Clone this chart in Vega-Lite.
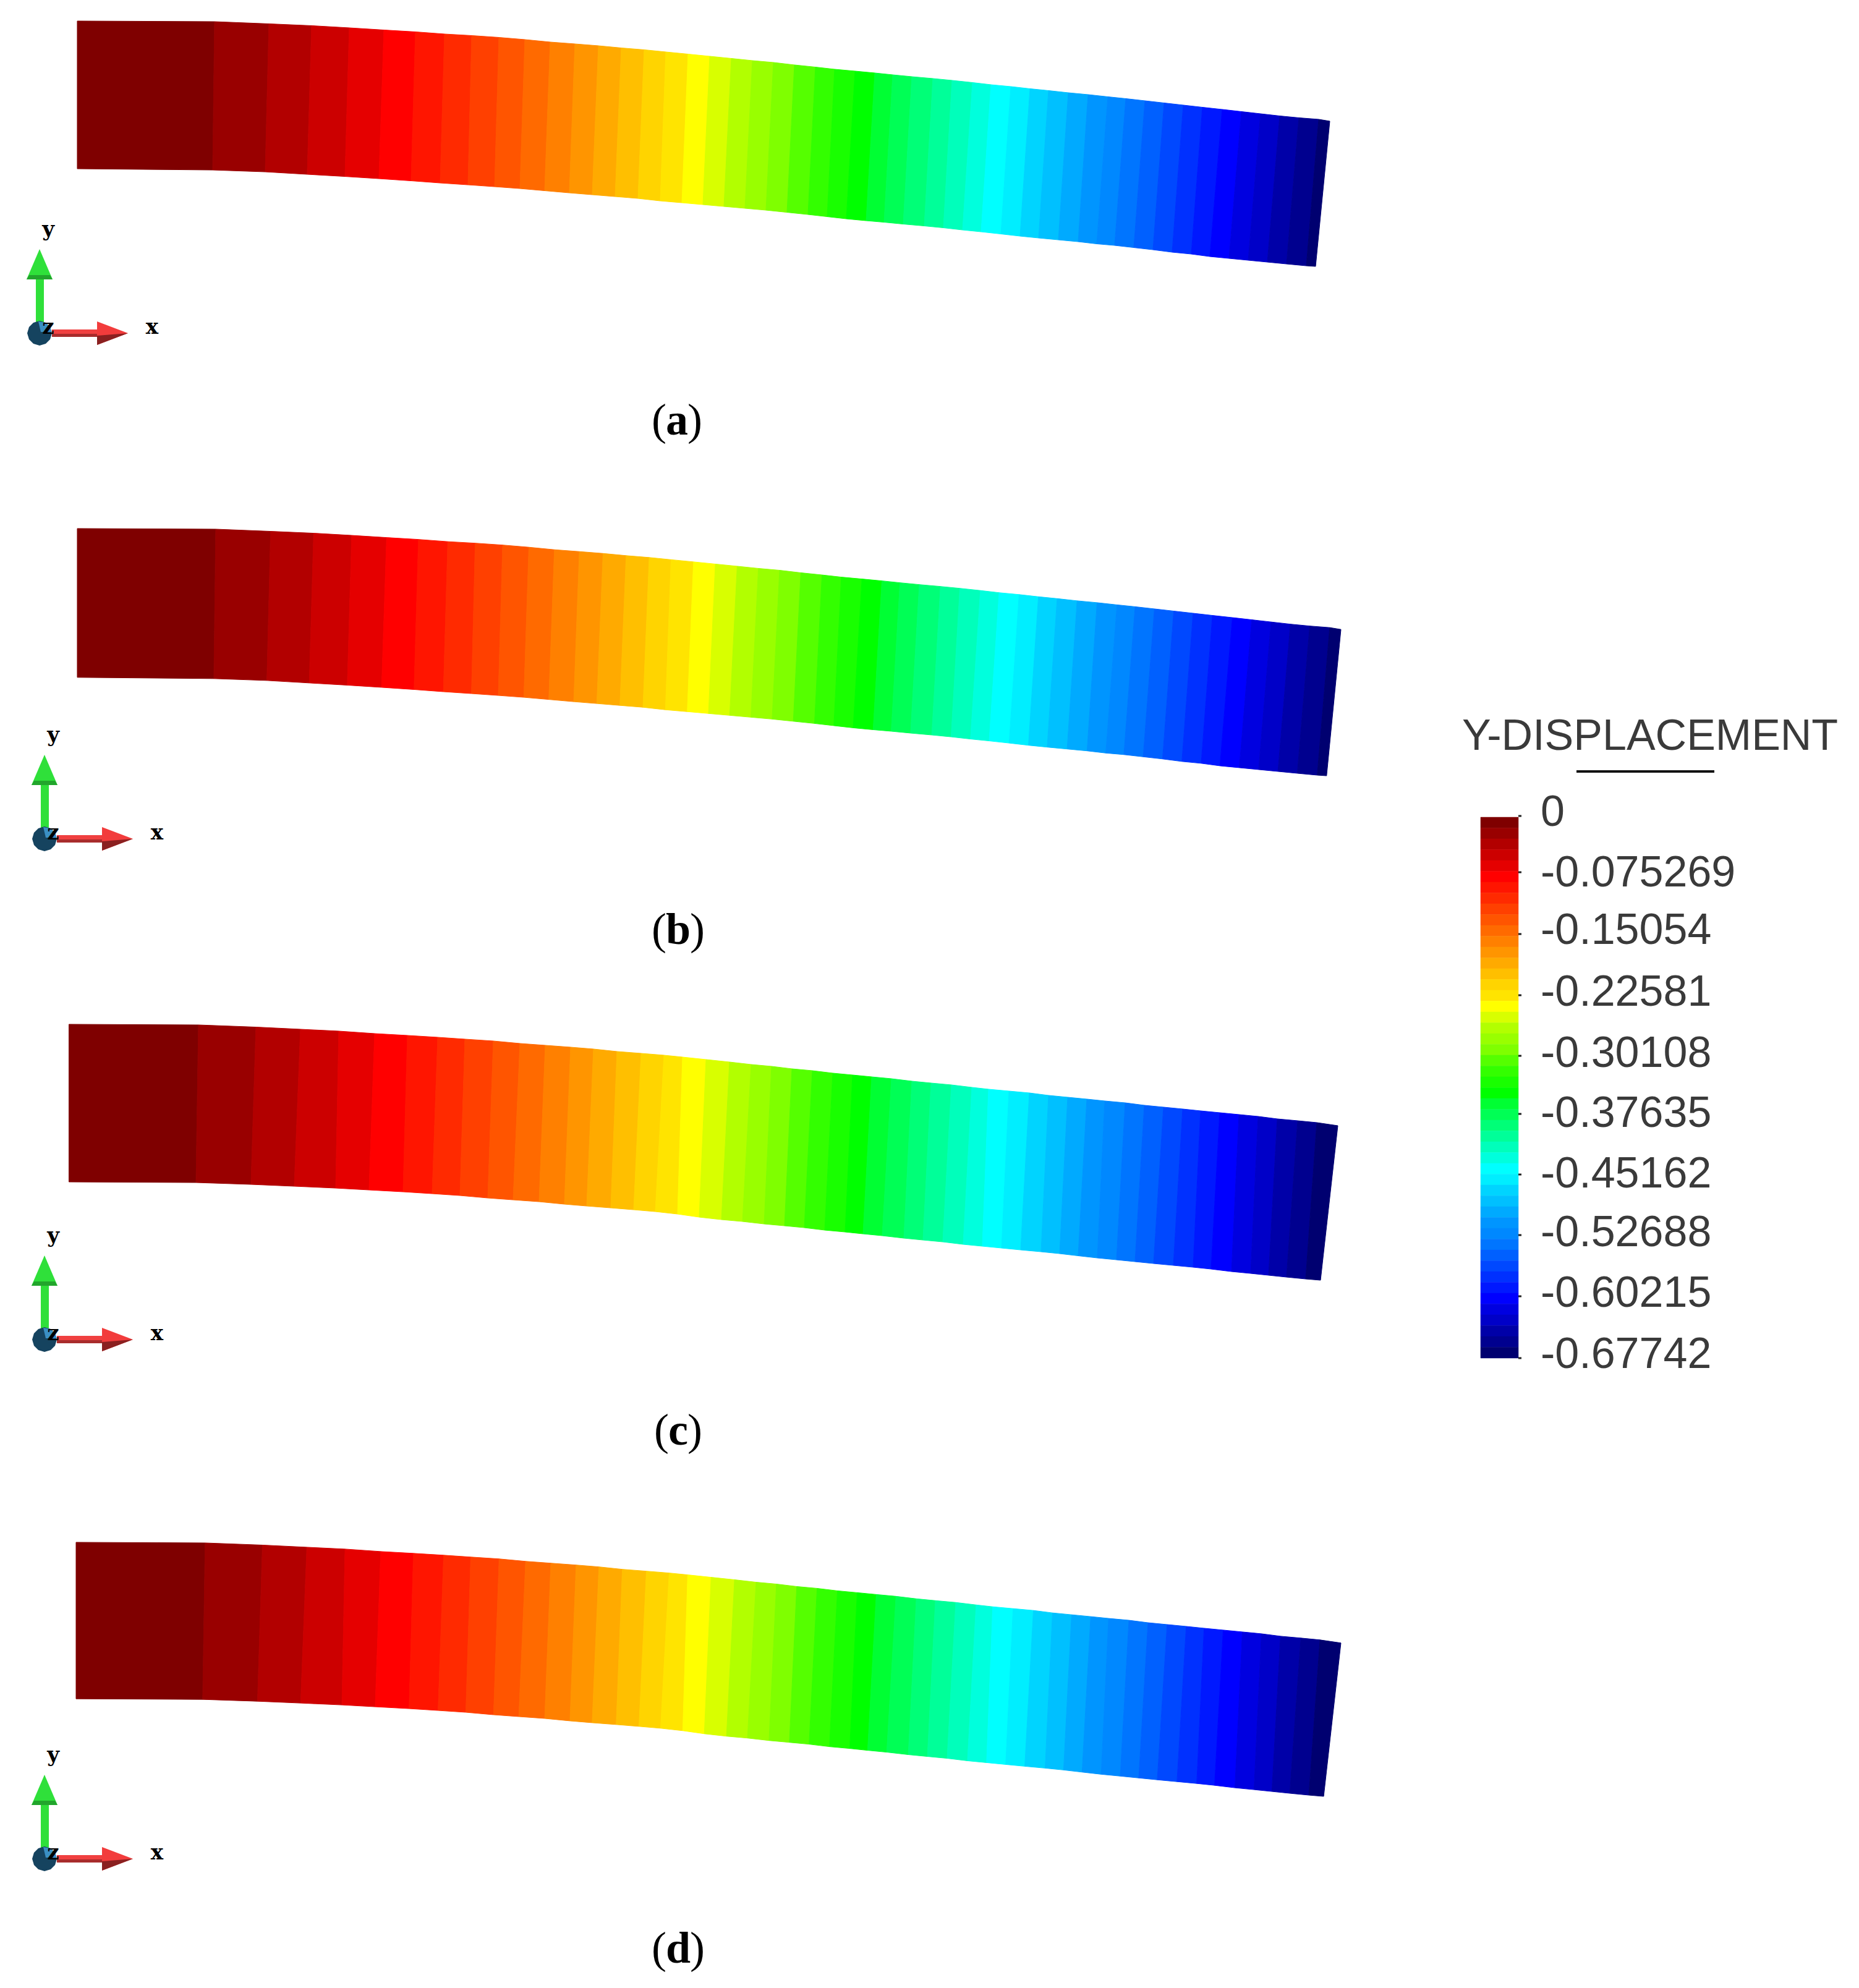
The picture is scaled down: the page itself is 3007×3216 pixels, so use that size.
{"$schema":"https://vega.github.io/schema/vega-lite/v6.json","width":3007,"height":3216,"padding":0,"autosize":{"type":"none"},"background":"white",
"config":{"view":{"stroke":null},"range":{"category":["#7f0000","#990000","#b20000","#cc0000","#e50000","#ff0000","#ff1500","#ff2a00","#ff4000","#ff5500","#ff6a00","#ff8000","#ff9500","#ffaa00","#ffbf00","#ffd400","#ffe400","#ffff00","#d8ff00","#b2ff00","#99ff00","#7fff00","#55ff00","#33ff00","#19ff00","#00ff00","#00ff33","#00ff55","#00ff77","#00ff99","#00ffbb","#00ffdd","#00ffff","#00eeff","#00d4ff","#00c0ff","#00aaff","#0095ff","#0088ff","#0075ff","#0060ff","#0048ff","#0030ff","#0018ff","#0000ff","#0000e0","#0000c8","#0000a8","#00008f","#000070"]}},
"datasets":{
"beamA":[
{"band":0,"xs":[125,347,344,125],"ys":[34,35,275,273]},
{"band":1,"xs":[347,435,429,344],"ys":[35,38.5,278,275]},
{"band":2,"xs":[435,504,497,429],"ys":[38.5,41.5,282,278]},
{"band":3,"xs":[504,565,558,497],"ys":[41.5,45,285.5,282]},
{"band":4,"xs":[565,621,613,558],"ys":[45,48.5,289,285.5]},
{"band":5,"xs":[621,672,665,613],"ys":[48.5,51.5,292.5,289]},
{"band":6,"xs":[672,719,712,665],"ys":[51.5,55,296,292.5]},
{"band":7,"xs":[719,763,757,712],"ys":[55,57.5,299,296]},
{"band":8,"xs":[763,807,800,757],"ys":[57.5,60.5,302,299]},
{"band":9,"xs":[807,849,841,800],"ys":[60.5,64,305,302]},
{"band":10,"xs":[849,890,881,841],"ys":[64,68,308.5,305]},
{"band":11,"xs":[890,930,921,881],"ys":[68,71,312,308.5]},
{"band":12,"xs":[930,968,958,921],"ys":[71,74,315,312]},
{"band":13,"xs":[968,1005,995,958],"ys":[74,77.5,318,315]},
{"band":14,"xs":[1005,1042,1032,995],"ys":[77.5,80.5,321,318]},
{"band":15,"xs":[1042,1077,1068,1032],"ys":[80.5,84,325,321]},
{"band":16,"xs":[1077,1113,1103,1068],"ys":[84,87.5,328,325]},
{"band":17,"xs":[1113,1148,1137,1103],"ys":[87.5,91,331,328]},
{"band":18,"xs":[1148,1183,1171,1137],"ys":[91,94.5,334,331]},
{"band":19,"xs":[1183,1217,1205,1171],"ys":[94.5,98,337,334]},
{"band":20,"xs":[1217,1251,1239,1205],"ys":[98,101,340,337]},
{"band":21,"xs":[1251,1285,1273,1239],"ys":[101,105,343.5,340]},
{"band":22,"xs":[1285,1319,1307,1273],"ys":[105,108.5,347,343.5]},
{"band":23,"xs":[1319,1350,1338,1307],"ys":[108.5,112,350.5,347]},
{"band":24,"xs":[1350,1383,1369,1338],"ys":[112,115,354,350.5]},
{"band":25,"xs":[1383,1415,1401,1369],"ys":[115,118,357,354]},
{"band":26,"xs":[1415,1444,1430,1401],"ys":[118,121,359.5,357]},
{"band":27,"xs":[1444,1475,1461,1430],"ys":[121,124,362.5,359.5]},
{"band":28,"xs":[1475,1509,1495,1461],"ys":[124,127,365.5,362.5]},
{"band":29,"xs":[1509,1540,1526,1495],"ys":[127,130,368.5,365.5]},
{"band":30,"xs":[1540,1573,1557,1526],"ys":[130,133.5,372,368.5]},
{"band":31,"xs":[1573,1603,1587,1557],"ys":[133.5,137,375,372]},
{"band":32,"xs":[1603,1635,1619,1587],"ys":[137,140,378.5,375]},
{"band":33,"xs":[1635,1666,1650,1619],"ys":[140,143.5,382,378.5]},
{"band":34,"xs":[1666,1696,1680,1650],"ys":[143.5,146.5,385,382]},
{"band":35,"xs":[1696,1728,1712,1680],"ys":[146.5,150,388,385]},
{"band":36,"xs":[1728,1760,1744,1712],"ys":[150,153,391,388]},
{"band":37,"xs":[1760,1792,1774,1744],"ys":[153,156.5,394.5,391]},
{"band":38,"xs":[1792,1821,1803,1774],"ys":[156.5,159.5,397,394.5]},
{"band":39,"xs":[1821,1852,1834,1803],"ys":[159.5,163,400.5,397]},
{"band":40,"xs":[1852,1883,1865,1834],"ys":[163,166.5,404,400.5]},
{"band":41,"xs":[1883,1914,1896,1865],"ys":[166.5,170,408,404]},
{"band":42,"xs":[1914,1945,1927,1896],"ys":[170,173.5,411,408]},
{"band":43,"xs":[1945,1977,1957,1927],"ys":[173.5,177,415,411]},
{"band":44,"xs":[1977,2008,1988,1957],"ys":[177,180.5,418,415]},
{"band":45,"xs":[2008,2039,2019,1988],"ys":[180.5,184,421,418]},
{"band":46,"xs":[2039,2070,2050,2019],"ys":[184,187.5,424,421]},
{"band":47,"xs":[2070,2101,2081,2050],"ys":[187.5,190.5,427,424]},
{"band":48,"xs":[2101,2133,2113,2081],"ys":[190.5,193,430,427]},
{"band":49,"xs":[2133,2151,2128,2113],"ys":[193,196,431,430]}
],
"beamC":[
{"band":0,"xs":[111.5,321,317,111.5],"ys":[1657,1658,1913,1912]},
{"band":1,"xs":[321,414,406,317],"ys":[1658,1661.5,1916,1913]},
{"band":2,"xs":[414,486,476,406],"ys":[1661.5,1665,1919,1916]},
{"band":3,"xs":[486,548,543,476],"ys":[1665,1668,1922,1919]},
{"band":4,"xs":[548,606,597,543],"ys":[1668,1672,1925,1922]},
{"band":5,"xs":[606,659,652,597],"ys":[1672,1675,1928,1925]},
{"band":6,"xs":[659,708,699,652],"ys":[1675,1678,1931,1928]},
{"band":7,"xs":[708,752,744,699],"ys":[1678,1681,1934,1931]},
{"band":8,"xs":[752,798,789,744],"ys":[1681,1684,1938,1934]},
{"band":9,"xs":[798,841,830,789],"ys":[1684,1688,1941,1938]},
{"band":10,"xs":[841,882,872,830],"ys":[1688,1691,1944,1941]},
{"band":11,"xs":[882,923,913,872],"ys":[1691,1694,1948,1944]},
{"band":12,"xs":[923,960,949,913],"ys":[1694,1697,1951,1948]},
{"band":13,"xs":[960,998,988,949],"ys":[1697,1701,1954,1951]},
{"band":14,"xs":[998,1037,1025,988],"ys":[1701,1704,1957,1954]},
{"band":15,"xs":[1037,1074,1060,1025],"ys":[1704,1707,1960,1957]},
{"band":16,"xs":[1074,1104,1096,1060],"ys":[1707,1710,1964,1960]},
{"band":17,"xs":[1104,1142,1131,1096],"ys":[1710,1714,1969,1964]},
{"band":18,"xs":[1142,1180,1167,1131],"ys":[1714,1718,1973,1969]},
{"band":19,"xs":[1180,1215,1201,1167],"ys":[1718,1722,1976,1973]},
{"band":20,"xs":[1215,1248,1236,1201],"ys":[1722,1725,1980,1976]},
{"band":21,"xs":[1248,1281,1269,1236],"ys":[1725,1729,1983,1980]},
{"band":22,"xs":[1281,1314,1301,1269],"ys":[1729,1732,1986,1983]},
{"band":23,"xs":[1314,1347,1334,1301],"ys":[1732,1736,1990,1986]},
{"band":24,"xs":[1347,1379,1367,1334],"ys":[1736,1739,1993,1990]},
{"band":25,"xs":[1379,1410,1396,1367],"ys":[1739,1742,1996,1993]},
{"band":26,"xs":[1410,1442,1427,1396],"ys":[1742,1745,1999,1996]},
{"band":27,"xs":[1442,1475,1462,1427],"ys":[1745,1749,2003,1999]},
{"band":28,"xs":[1475,1506,1493,1462],"ys":[1749,1752,2006,2003]},
{"band":29,"xs":[1506,1539,1525,1493],"ys":[1752,1755,2009,2006]},
{"band":30,"xs":[1539,1572,1558,1525],"ys":[1755,1759,2013,2009]},
{"band":31,"xs":[1572,1599,1589,1558],"ys":[1759,1762,2016,2013]},
{"band":32,"xs":[1599,1632,1620,1589],"ys":[1762,1765,2019,2016]},
{"band":33,"xs":[1632,1665,1651,1620],"ys":[1765,1768,2022,2019]},
{"band":34,"xs":[1665,1696,1684,1651],"ys":[1768,1772,2025,2022]},
{"band":35,"xs":[1696,1727,1714,1684],"ys":[1772,1775,2028,2025]},
{"band":36,"xs":[1727,1758,1744,1714],"ys":[1775,1778,2031.5,2028]},
{"band":37,"xs":[1758,1787,1775,1744],"ys":[1778,1781,2035,2031.5]},
{"band":38,"xs":[1787,1820,1806,1775],"ys":[1781,1784,2038,2035]},
{"band":39,"xs":[1820,1851,1836,1806],"ys":[1784,1788,2041,2038]},
{"band":40,"xs":[1851,1882,1866,1836],"ys":[1788,1791,2044,2041]},
{"band":41,"xs":[1882,1913,1898,1866],"ys":[1791,1794,2047,2044]},
{"band":42,"xs":[1913,1942,1930,1898],"ys":[1794,1797,2050,2047]},
{"band":43,"xs":[1942,1973,1959,1930],"ys":[1797,1800,2053,2050]},
{"band":44,"xs":[1973,2004,1992,1959],"ys":[1800,1803,2057,2053]},
{"band":45,"xs":[2004,2035,2023,1992],"ys":[1803,1806,2060,2057]},
{"band":46,"xs":[2035,2066,2052,2023],"ys":[1806,1810,2063,2060]},
{"band":47,"xs":[2066,2099,2081,2052],"ys":[1810,1813,2066,2063]},
{"band":48,"xs":[2099,2130,2112,2081],"ys":[1813,1816,2069,2066]},
{"band":49,"xs":[2130,2164,2136,2112],"ys":[1816,1821,2071,2069]}
],
"bar":[
{"band":0,"x":2395,"x2":2456,"y":1322,"y2":1339.5},{"band":1,"x":2395,"x2":2456,"y":1339.5,"y2":1357},{"band":2,"x":2395,"x2":2456,"y":1357,"y2":1374.5},{"band":3,"x":2395,"x2":2456,"y":1374.5,"y2":1392},{"band":4,"x":2395,"x2":2456,"y":1392,"y2":1409.5},{"band":5,"x":2395,"x2":2456,"y":1409.5,"y2":1427},{"band":6,"x":2395,"x2":2456,"y":1427,"y2":1444.5},{"band":7,"x":2395,"x2":2456,"y":1444.5,"y2":1462},{"band":8,"x":2395,"x2":2456,"y":1462,"y2":1479.5},{"band":9,"x":2395,"x2":2456,"y":1479.5,"y2":1497},
{"band":10,"x":2395,"x2":2456,"y":1497,"y2":1514.5},{"band":11,"x":2395,"x2":2456,"y":1514.5,"y2":1532},{"band":12,"x":2395,"x2":2456,"y":1532,"y2":1549.5},{"band":13,"x":2395,"x2":2456,"y":1549.5,"y2":1567},{"band":14,"x":2395,"x2":2456,"y":1567,"y2":1584.5},{"band":15,"x":2395,"x2":2456,"y":1584.5,"y2":1602},{"band":16,"x":2395,"x2":2456,"y":1602,"y2":1619.5},{"band":17,"x":2395,"x2":2456,"y":1619.5,"y2":1637},{"band":18,"x":2395,"x2":2456,"y":1637,"y2":1654.5},{"band":19,"x":2395,"x2":2456,"y":1654.5,"y2":1672},
{"band":20,"x":2395,"x2":2456,"y":1672,"y2":1689.5},{"band":21,"x":2395,"x2":2456,"y":1689.5,"y2":1707},{"band":22,"x":2395,"x2":2456,"y":1707,"y2":1724.5},{"band":23,"x":2395,"x2":2456,"y":1724.5,"y2":1742},{"band":24,"x":2395,"x2":2456,"y":1742,"y2":1759.5},{"band":25,"x":2395,"x2":2456,"y":1759.5,"y2":1777},{"band":26,"x":2395,"x2":2456,"y":1777,"y2":1794.5},{"band":27,"x":2395,"x2":2456,"y":1794.5,"y2":1812},{"band":28,"x":2395,"x2":2456,"y":1812,"y2":1829.5},{"band":29,"x":2395,"x2":2456,"y":1829.5,"y2":1847},
{"band":30,"x":2395,"x2":2456,"y":1847,"y2":1864.5},{"band":31,"x":2395,"x2":2456,"y":1864.5,"y2":1882},{"band":32,"x":2395,"x2":2456,"y":1882,"y2":1899.5},{"band":33,"x":2395,"x2":2456,"y":1899.5,"y2":1917},{"band":34,"x":2395,"x2":2456,"y":1917,"y2":1934.5},{"band":35,"x":2395,"x2":2456,"y":1934.5,"y2":1952},{"band":36,"x":2395,"x2":2456,"y":1952,"y2":1969.5},{"band":37,"x":2395,"x2":2456,"y":1969.5,"y2":1987},{"band":38,"x":2395,"x2":2456,"y":1987,"y2":2004.5},{"band":39,"x":2395,"x2":2456,"y":2004.5,"y2":2022},
{"band":40,"x":2395,"x2":2456,"y":2022,"y2":2039.5},{"band":41,"x":2395,"x2":2456,"y":2039.5,"y2":2057},{"band":42,"x":2395,"x2":2456,"y":2057,"y2":2074.5},{"band":43,"x":2395,"x2":2456,"y":2074.5,"y2":2092},{"band":44,"x":2395,"x2":2456,"y":2092,"y2":2109.5},{"band":45,"x":2395,"x2":2456,"y":2109.5,"y2":2127},{"band":46,"x":2395,"x2":2456,"y":2127,"y2":2144.5},{"band":47,"x":2395,"x2":2456,"y":2144.5,"y2":2162},{"band":48,"x":2395,"x2":2456,"y":2162,"y2":2179.5},{"band":49,"x":2395,"x2":2456,"y":2179.5,"y2":2197}
],
"tickMarks":[
{"x":2456,"x2":2461,"y":1320},{"x":2456,"x2":2461,"y":1411},{"x":2456,"x2":2461,"y":1511},{"x":2456,"x2":2461,"y":1610},{"x":2456,"x2":2461,"y":1708},{"x":2456,"x2":2461,"y":1802},{"x":2456,"x2":2461,"y":1900},{"x":2456,"x2":2461,"y":1998},{"x":2456,"x2":2461,"y":2097},{"x":2456,"x2":2461,"y":2197}
],
"tickLabels":[
{"label":"0","x":2492,"y":1315},{"label":"-0.075269","x":2492,"y":1413},{"label":"-0.15054","x":2492,"y":1506},{"label":"-0.22581","x":2492,"y":1606},{"label":"-0.30108","x":2492,"y":1705},{"label":"-0.37635","x":2492,"y":1802},{"label":"-0.45162","x":2492,"y":1900},{"label":"-0.52688","x":2492,"y":1995},{"label":"-0.60215","x":2492,"y":2093},{"label":"-0.67742","x":2492,"y":2192},{"label":"Y-DISPLACEMENT","x":2365,"y":1192}
],
"underline":[{"x":2550,"x2":2773,"y":1248}],
"parens":[
{"t":"(","x":1066,"y":703},{"t":")","x":1124,"y":703},
{"t":"(","x":1066,"y":1527},{"t":")","x":1128,"y":1527},
{"t":"(","x":1070,"y":2337},{"t":")","x":1124,"y":2337},
{"t":"(","x":1066,"y":3175},{"t":")","x":1128,"y":3175}
],
"letters":[
{"t":"a","x":1095,"y":703},{"t":"b","x":1097,"y":1527},{"t":"c","x":1097,"y":2337},{"t":"d","x":1097,"y":3175}
],
"triad":[
{"part":"gs","xs":[58,71,71,58],"ys":[450,450,525,525]},
{"part":"gh","xs":[64,85,43],"ys":[403,452,452]},
{"part":"gd","xs":[47,81,85,43],"ys":[445,445,452,452]},
{"part":"rs","xs":[84,157,157,84],"ys":[533,533,540,540]},
{"part":"rd","xs":[84,157,157,84],"ys":[540,540,545,545]},
{"part":"rh","xs":[157,207,157],"ys":[520,539,558]},
{"part":"rk","xs":[157,207,157],"ys":[543,539,558]},
{"part":"c","xs":[84,81,74,64,54,47,44,47,54,64,74,81],"ys":[539,529,522,519,522,529,539,549,556,559,556,549]},
{"part":"cl","xs":[62,74,81,84,66],"ys":[520,522,529,537,537]}
],
"triadText":[{"t":"y","x":78,"y":382},{"t":"x","x":246,"y":540},{"t":"z","x":78,"y":540}]
},
"layer":[
{"encoding":{"x":{"field":"x","type":"quantitative","axis":null,"scale":{"domain":[0,3007],"range":[0,3007],"nice":false,"zero":false}},"y":{"field":"y","type":"quantitative","axis":null,"scale":{"domain":[0,3216],"range":[0,3216],"nice":false,"zero":false}}},
"layer":[
{"data":{"name":"beamA"},"transform":[{"flatten":["xs","ys"],"as":["x","y"]}],"mark":{"type":"line","filled":true,"strokeWidth":1,"interpolate":"linear-closed"},"encoding":{"order":{"value":null},"color":{"field":"band","type":"nominal","legend":null},"stroke":{"field":"band","type":"nominal","legend":null}}},
{"data":{"name":"beamC"},"transform":[{"flatten":["xs","ys"],"as":["x","y"]}],"mark":{"type":"line","filled":true,"strokeWidth":1,"interpolate":"linear-closed"},"encoding":{"order":{"value":null},"color":{"field":"band","type":"nominal","legend":null},"stroke":{"field":"band","type":"nominal","legend":null}}},
{"data":{"name":"bar"},"mark":{"type":"rect","strokeWidth":0.5},"encoding":{"x2":{"field":"x2"},"y2":{"field":"y2"},"color":{"field":"band","type":"nominal","legend":null},"stroke":{"field":"band","type":"nominal","legend":null}}},
{"data":{"name":"tickMarks"},"mark":{"type":"rule","color":"#222222","strokeWidth":3},"encoding":{"x2":{"field":"x2"}}},
{"data":{"name":"tickLabels"},"mark":{"type":"text","font":"Liberation Sans","fontSize":70,"align":"left","baseline":"middle","fill":"#3a3a3a"},"encoding":{"text":{"field":"label"}}},
{"data":{"name":"underline"},"mark":{"type":"rule","color":"#111111","strokeWidth":4},"encoding":{"x2":{"field":"x2"}}},
{"data":{"name":"parens"},"mark":{"type":"text","font":"Liberation Serif","fontSize":72,"align":"center","baseline":"alphabetic","fill":"black"},"encoding":{"text":{"field":"t"}}},
{"data":{"name":"letters"},"mark":{"type":"text","font":"Liberation Serif","fontWeight":"bold","fontSize":72,"align":"center","baseline":"alphabetic","fill":"black"},"encoding":{"text":{"field":"t"}}}
]},
{"data":{"name":"beamA"},"transform":[{"flatten":["xs","ys"],"as":["x","y"]}],"mark":{"type":"line","filled":true,"strokeWidth":1,"interpolate":"linear-closed"},"encoding":{"order":{"value":null},"x":{"field":"x","type":"quantitative","axis":null,"scale":{"domain":[125,2149],"range":[125,2167],"nice":false,"zero":false}},"y":{"field":"y","type":"quantitative","axis":null,"scale":{"domain":[34,431],"range":[855,1255],"nice":false,"zero":false}},"color":{"field":"band","type":"nominal","legend":null},"stroke":{"field":"band","type":"nominal","legend":null}}},
{"data":{"name":"beamC"},"transform":[{"flatten":["xs","ys"],"as":["x","y"]}],"mark":{"type":"line","filled":true,"strokeWidth":1,"interpolate":"linear-closed"},"encoding":{"order":{"value":null},"x":{"field":"x","type":"quantitative","axis":null,"scale":{"domain":[111.5,2164],"range":[123,2169],"nice":false,"zero":false}},"y":{"field":"y","type":"quantitative","axis":null,"scale":{"domain":[1657,2072],"range":[2495,2907],"nice":false,"zero":false}},"color":{"field":"band","type":"nominal","legend":null},"stroke":{"field":"band","type":"nominal","legend":null}}},
{"encoding":{"x":{"field":"x","type":"quantitative","axis":null,"scale":{"domain":[0,3007],"range":[0,3007],"nice":false,"zero":false}},"y":{"field":"y","type":"quantitative","axis":null,"scale":{"domain":[0,3216],"range":[0,3216],"nice":false,"zero":false}}},
"layer":[
{"data":{"name":"triad"},"transform":[{"flatten":["xs","ys"],"as":["x","y"]}],"mark":{"type":"line","filled":true,"strokeWidth":0,"interpolate":"linear-closed"},"encoding":{"order":{"value":null},"color":{"field":"part","type":"nominal","legend":null,"scale":{"domain":["gs","gh","gd","rs","rd","rh","rk","c","cl"],"range":["#2fe03a","#2fe03a","#22a52c","#f04040","#a82c2c","#f23c3c","#8a2020","#15435f","#3a8fc4"]}}}},
{"data":{"name":"triadText"},"mark":{"type":"text","font":"DejaVu Serif","fontWeight":"bold","fontSize":34,"align":"center","baseline":"alphabetic","fill":"black"},"encoding":{"text":{"field":"t"}}}
]},
{"encoding":{"x":{"field":"x","type":"quantitative","axis":null,"scale":{"domain":[0,3007],"range":[8,3015],"nice":false,"zero":false}},"y":{"field":"y","type":"quantitative","axis":null,"scale":{"domain":[0,3216],"range":[818,4034],"nice":false,"zero":false}}},
"layer":[
{"data":{"name":"triad"},"transform":[{"flatten":["xs","ys"],"as":["x","y"]}],"mark":{"type":"line","filled":true,"strokeWidth":0,"interpolate":"linear-closed"},"encoding":{"order":{"value":null},"color":{"field":"part","type":"nominal","legend":null,"scale":{"domain":["gs","gh","gd","rs","rd","rh","rk","c","cl"],"range":["#2fe03a","#2fe03a","#22a52c","#f04040","#a82c2c","#f23c3c","#8a2020","#15435f","#3a8fc4"]}}}},
{"data":{"name":"triadText"},"mark":{"type":"text","font":"DejaVu Serif","fontWeight":"bold","fontSize":34,"align":"center","baseline":"alphabetic","fill":"black"},"encoding":{"text":{"field":"t"}}}
]},
{"encoding":{"x":{"field":"x","type":"quantitative","axis":null,"scale":{"domain":[0,3007],"range":[8,3015],"nice":false,"zero":false}},"y":{"field":"y","type":"quantitative","axis":null,"scale":{"domain":[0,3216],"range":[1628,4844],"nice":false,"zero":false}}},
"layer":[
{"data":{"name":"triad"},"transform":[{"flatten":["xs","ys"],"as":["x","y"]}],"mark":{"type":"line","filled":true,"strokeWidth":0,"interpolate":"linear-closed"},"encoding":{"order":{"value":null},"color":{"field":"part","type":"nominal","legend":null,"scale":{"domain":["gs","gh","gd","rs","rd","rh","rk","c","cl"],"range":["#2fe03a","#2fe03a","#22a52c","#f04040","#a82c2c","#f23c3c","#8a2020","#15435f","#3a8fc4"]}}}},
{"data":{"name":"triadText"},"mark":{"type":"text","font":"DejaVu Serif","fontWeight":"bold","fontSize":34,"align":"center","baseline":"alphabetic","fill":"black"},"encoding":{"text":{"field":"t"}}}
]},
{"encoding":{"x":{"field":"x","type":"quantitative","axis":null,"scale":{"domain":[0,3007],"range":[8,3015],"nice":false,"zero":false}},"y":{"field":"y","type":"quantitative","axis":null,"scale":{"domain":[0,3216],"range":[2468,5684],"nice":false,"zero":false}}},
"layer":[
{"data":{"name":"triad"},"transform":[{"flatten":["xs","ys"],"as":["x","y"]}],"mark":{"type":"line","filled":true,"strokeWidth":0,"interpolate":"linear-closed"},"encoding":{"order":{"value":null},"color":{"field":"part","type":"nominal","legend":null,"scale":{"domain":["gs","gh","gd","rs","rd","rh","rk","c","cl"],"range":["#2fe03a","#2fe03a","#22a52c","#f04040","#a82c2c","#f23c3c","#8a2020","#15435f","#3a8fc4"]}}}},
{"data":{"name":"triadText"},"mark":{"type":"text","font":"DejaVu Serif","fontWeight":"bold","fontSize":34,"align":"center","baseline":"alphabetic","fill":"black"},"encoding":{"text":{"field":"t"}}}
]}
],
"resolve":{"scale":{"x":"independent","y":"independent","color":"independent","stroke":"independent"}}
}
